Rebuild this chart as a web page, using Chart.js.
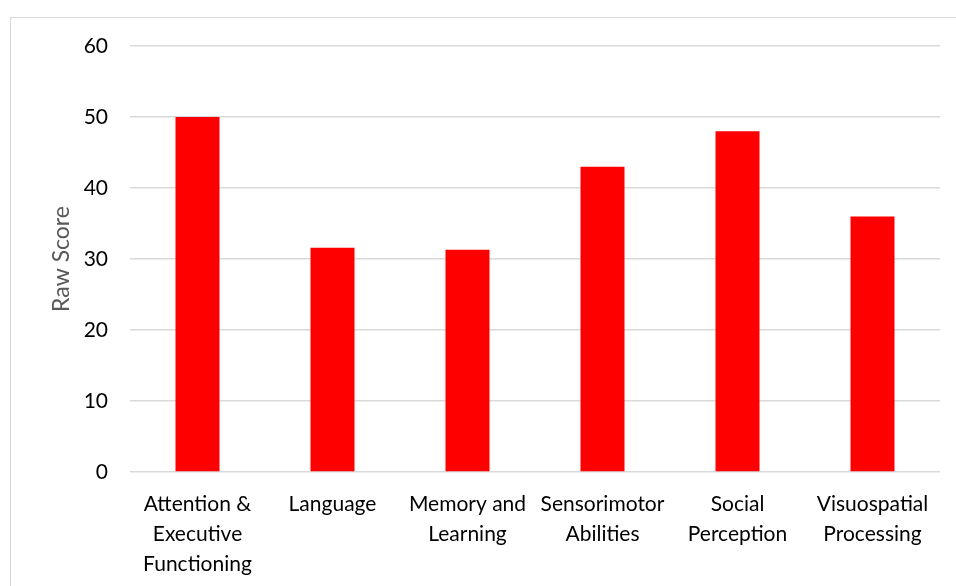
<!DOCTYPE html>
<html>
<head>
<meta charset="utf-8">
<script src="https://cdn.jsdelivr.net/npm/chart.js@4"></script>
<style>
    body { margin: 0; background: #fff; }
    #wrap { position: relative; width: 956px; height: 586px; overflow: hidden; }
    #frame { position: absolute; left: 10px; top: 17px; width: 1000px; height: 700px;
             border: 1px solid #d9d9d9; }
    #chart { position: absolute; left: 0; top: 0; }
</style>
</head>
<body>
<div id="wrap">
    <div id="frame"></div>
    <canvas id="chart" width="956" height="586"></canvas>
</div>
<script>
const categories = [
    ["Attention &", "Executive", "Functioning"],
    "Language",
    ["Memory and", "Learning"],
    ["Sensorimotor", "Abilities"],
    ["Social", "Perception"],
    ["Visuospatial", "Processing"]
];
const rawScores = [50, 31.6, 31.3, 43, 48, 36];
const yTicks = [0, 10, 20, 30, 40, 50, 60];

const ctx = document.getElementById('chart');
const family = "Lato, 'Liberation Sans', sans-serif";

new Chart(ctx, {
    type: 'bar',
    data: {
        labels: categories,
        datasets: [{
            label: 'Raw Score',
            data: rawScores,
            backgroundColor: '#ff0000',
            borderWidth: 0,
            categoryPercentage: 1,
            barPercentage: 0.326
        }]
    },
    options: {
        responsive: false,
        animation: false,
        layout: { padding: { top: 46, right: 16, left: 0, bottom: 0 } },
        plugins: { legend: { display: false }, tooltip: { enabled: false } },
        scales: {
            x: {
                grid: { display: false },
                border: { display: false },
                ticks: {
                    color: '#000',
                    font: { family, size: 21, lineHeight: 30 / 21 },
                    padding: 9,
                    maxRotation: 0,
                    autoSkip: false
                },
                afterFit: (s) => { s.height = 114; }
            },
            y: {
                min: 0,
                max: 60,
                afterBuildTicks: (s) => { s.ticks = yTicks.map(v => ({ value: v })); },
                grid: { color: '#d9d9d9', lineWidth: 1.5, drawTicks: false },
                border: { display: false },
                ticks: { color: '#000', font: { family, size: 21 }, padding: 22 },
                title: {
                    display: true,
                    text: 'Raw Score',
                    color: '#595959',
                    font: { family, size: 23 },
                    padding: { top: 48, bottom: 0 }
                },
                afterFit: (s) => { s.width = 130; }
            }
        }
    }
});
</script>
</body>
</html>
